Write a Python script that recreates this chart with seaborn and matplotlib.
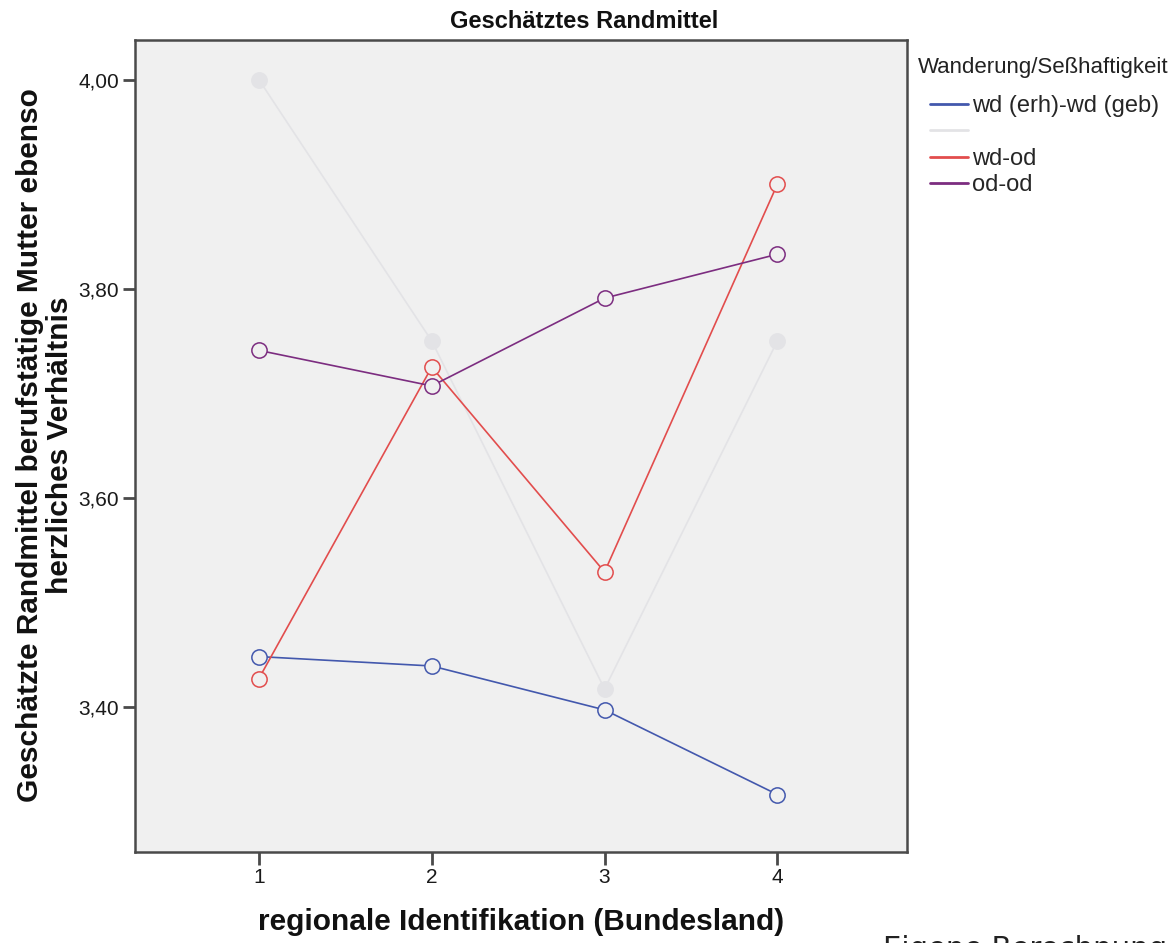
import pandas as pd
import numpy as np
import matplotlib
matplotlib.use('Agg')
import matplotlib.pyplot as plt
from matplotlib.lines import Line2D
import seaborn as sns

# Values
regions = [1, 2, 3, 4]
groups = ['wd (erh)-wd (geb)', '', 'wd-od', 'od-od']
wd_erh_wd_geb = [3.448, 3.439, 3.397, 3.316]
unlabeled = [4.000, 3.750, 3.417, 3.750]
wd_od = [3.427, 3.725, 3.529, 3.900]
od_od = [3.741, 3.707, 3.791, 3.833]
y_ticks = [3.40, 3.60, 3.80, 4.00]

colors = ['#4358ad', '#e3e3e6', '#e24d4d', '#7c2d80']

series = [wd_erh_wd_geb, unlabeled, wd_od, od_od]
df = pd.DataFrame({
    'region': regions * len(groups),
    'mean': [v for s in series for v in s],
    'group': [g if g else 'grey' for g in groups for _ in regions],
})

sns.set_style('white')
plt.rcParams['font.family'] = ['Liberation Sans', 'DejaVu Sans']

W, H = 1169, 943
fig = plt.figure(figsize=(W / 100, H / 100), dpi=100)
ax = fig.add_axes([135 / W, 1 - 852 / H, (907 - 135) / W, (852 - 40) / H])
ax.set_facecolor('#f0f0f0')

# grey series first so it sits behind the others
order = [1, 0, 2, 3]
for i in order:
    key = groups[i] if groups[i] else 'grey'
    sub = df[df['group'] == key]
    filled = (i == 1)
    sns.lineplot(data=sub, x='region', y='mean', ax=ax, color=colors[i],
                 linewidth=1.2, marker='o', markersize=11,
                 markerfacecolor=colors[i] if filled else '#f0f0f0',
                 markeredgecolor=colors[i], markeredgewidth=1.1, legend=False,
                 zorder=2 if filled else 3)

ax.set_xlim(0.283, 4.75)
ax.set_ylim(3.261, 4.038)
ax.set_xticks(regions)
ax.set_xticklabels([str(r) for r in regions])
ax.set_yticks(y_ticks)
ax.set_yticklabels([f'{t:.2f}'.replace('.', ',') for t in y_ticks])
ax.tick_params(axis='both', direction='out', length=9, width=2, color='#4a4a4a',
               labelsize=15, labelcolor='#1a1a1a', bottom=True, left=True, pad=2.5)
for sp in ax.spines.values():
    sp.set_color('#4a4a4a')
    sp.set_linewidth(1.8)

ax.set_xlabel('regionale Identifikation (Bundesland)', fontsize=21.5, fontweight='bold',
              color='#111111')
ax.xaxis.set_label_coords(0.5, (852 - 922) / 812)
ax.xaxis.label.set_va('center')
ax.set_ylabel('Geschätzte Randmittel berufstätige Mutter ebenso\nherzliches Verhältnis',
              fontsize=21.5, fontweight='bold', linespacing=1.05, color='#111111')
ax.yaxis.set_label_coords((45 - 135) / 772, (852 - 445) / 812)
ax.yaxis.label.set_va('center')
ax.yaxis.label.set_ha('center')

fig.text(0.5, 1 - 21 / H, 'Geschätztes Randmittel', fontsize=17, fontweight='bold',
         ha='center', va='center', color='#111111')

# legend: title and entries placed like the SPSS output
fig.text(918 / W, 1 - 67 / H, 'Wanderung/Seßhaftigkeit', fontsize=16, ha='left',
         va='center', color='#222222')
handles = [Line2D([0], [0], color=c, linewidth=2) for c in colors]
fig.legend(handles, groups, loc='upper left', bbox_to_anchor=(930 / W, 1 - 95 / H),
           frameon=False, fontsize=17, handlelength=1.6, handletextpad=0.17,
           labelspacing=0.19, borderaxespad=0, borderpad=0)

# source note, cut off at the bottom edge as in the original
fig.text(883 / W, 1 - 957 / H, 'Eigene Berechnungen', fontsize=21,
         family=['DejaVu Sans'], color='#222222', va='baseline', ha='left')

fig.savefig('out.png', dpi=100)
